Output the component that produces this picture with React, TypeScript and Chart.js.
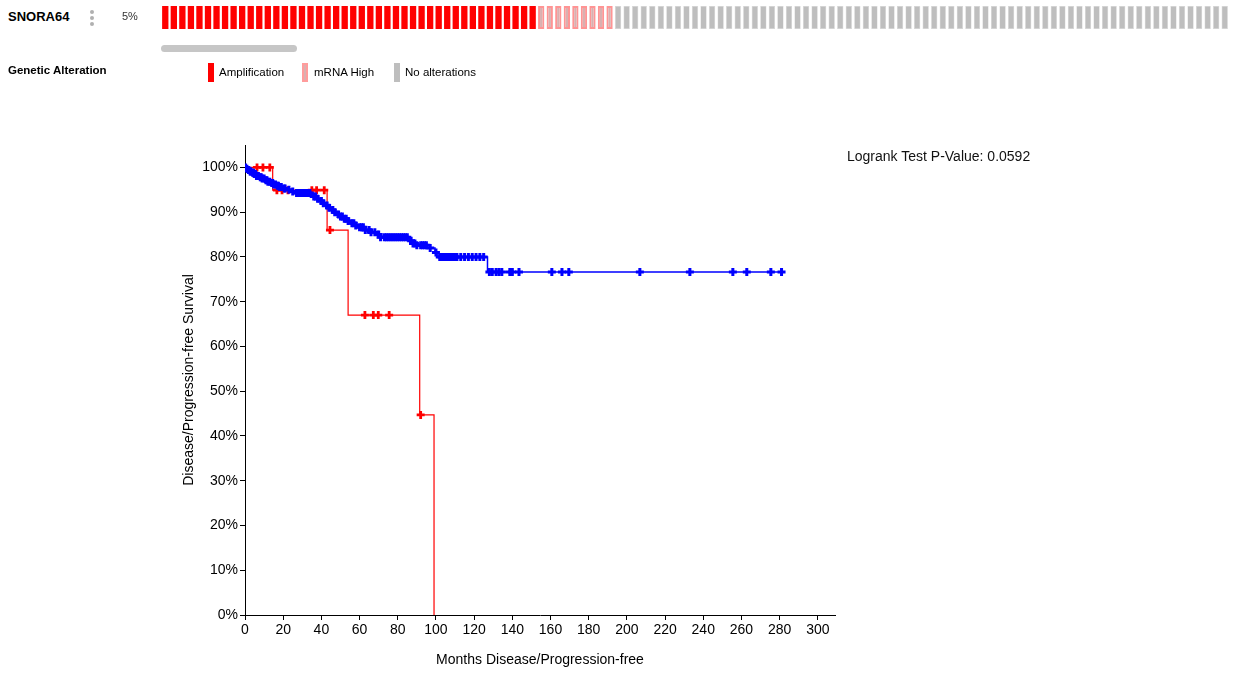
import React, { useEffect, useRef } from "react";
import { Chart, registerables } from "chart.js";

Chart.register(...registerables);

const FONT = '"Liberation Sans", Arial, Helvetica, sans-serif';

// ---- Oncoprint track (sample counts per alteration type) ----
const trackGene = "SNORA64";
const trackPercent = "5%";
const amplificationCount = 44;
const mrnaHighCount = 9;
const unalteredCount = 72;
const legendTitle = "Genetic Alteration";
const legendLabels = ["Amplification", "mRNA High", "No alterations"];

// ---- Kaplan-Meier: unaltered group (blue) ----
const blueEventMonths = [
  0, 0.5, 1.5, 2.5, 3.5, 5, 6, 7.5, 9, 10.5, 12, 13.5, 15, 16.5, 18, 20, 22, 24, 26,
  35, 36, 37.5, 39, 40.5, 42, 43.5, 45, 46.5, 48, 50, 52, 54, 56, 58, 60, 63, 66,
  68.5, 71, 86, 88, 90, 97, 99.5, 101, 127, 281,
];
const blueSurvival = [
  100, 99.7, 99.4, 99.1, 98.8, 98.5, 98.1, 97.8, 97.5, 97.1, 96.8, 96.5, 96.2, 95.9,
  95.6, 95.3, 95.0, 94.6, 94.3, 94.0, 93.5, 93.0, 92.5, 92.0, 91.5, 91.0, 90.5, 90.0,
  89.5, 89.0, 88.5, 88.0, 87.5, 87.0, 86.6, 86.0, 85.5, 85.0, 84.4, 83.6, 83.0, 82.6,
  82.0, 81.0, 80.0, 76.6, 76.6,
];
const blueCensorMonths = [
  0.3, 1, 1.8, 2, 2.7, 3, 4, 4.5, 5, 5.5, 6, 7, 8, 8.5, 9, 10, 11, 11.5, 12, 13, 14,
  14.5, 15, 16, 17, 17.5, 18, 19, 20.5, 21, 23, 25, 27, 28, 29, 30, 31, 32, 33, 34,
  36, 37, 38, 40, 41, 43, 44, 46, 47, 49, 50, 51, 52, 53, 54, 56, 57, 58, 60, 61, 62,
  63, 65, 66, 68, 70, 71, 73, 74, 75, 76, 77, 78, 79, 80, 81, 82, 83, 84, 85, 87, 88,
  89, 90, 92, 93, 94, 95, 97, 100, 102, 103, 104, 105, 106, 107, 108, 109, 110, 111,
  113, 115, 117, 119, 121, 123, 125, 128, 129.5, 131.5, 133, 134.5, 138.7, 140, 143.5,
  160.7, 166, 169.6, 206.8, 233, 255.5, 262.8, 275.4, 281,
];

// ---- Kaplan-Meier: altered group (red) ----
const redEventMonths = [0, 14.5, 43, 54, 91.5, 99];
const redSurvival = [100, 94.9, 86.0, 67.0, 44.7, 0];
const redCensorMonths = [
  6.3, 9.4, 13, 16.7, 19.4, 22.5, 35, 37.5, 41.5, 44.5, 62.8, 67.2, 69.8, 75.5, 92,
];

const xTickStep = 20;
const yTickStep = 10;
const pValueText = "Logrank Test P-Value: 0.0592";
const xTitle = "Months Disease/Progression-free";
const yTitle = "Disease/Progression-free Survival";

function survivalAt(months: number[], surv: number[], t: number) {
  let s = surv[0];
  for (let i = 0; i < months.length; i++) {
    if (months[i] <= t) s = surv[i];
  }
  return s;
}

export default function App() {
  const kmRef = useRef<HTMLCanvasElement>(null);
  const trackRef = useRef<HTMLCanvasElement>(null);

  useEffect(() => {
    document.body.style.margin = "0";

    const stepData = (m: number[], s: number[]) => m.map((x, i) => ({ x, y: s[i] }));
    const censorData = (c: number[], m: number[], s: number[]) =>
      c.map((x) => ({ x, y: survivalAt(m, s, x) }));

    const km = new Chart(kmRef.current!, {
      type: "scatter",
      data: {
        datasets: [
          {
            data: censorData(blueCensorMonths, blueEventMonths, blueSurvival),
            showLine: false,
            pointStyle: "cross",
            pointRadius: 4,
            pointBorderWidth: 3,
            borderColor: "#0000ff",
            backgroundColor: "#0000ff",
            order: 0,
          },
          {
            data: stepData(blueEventMonths, blueSurvival),
            showLine: true,
            stepped: true,
            borderColor: "#0000ff",
            borderWidth: 1.5,
            pointRadius: 0,
            order: 1,
          },
          {
            data: censorData(redCensorMonths, redEventMonths, redSurvival),
            showLine: false,
            pointStyle: "cross",
            pointRadius: 4,
            pointBorderWidth: 2.8,
            borderColor: "#ff0000",
            backgroundColor: "#ff0000",
            order: 2,
          },
          {
            data: stepData(redEventMonths, redSurvival),
            showLine: true,
            stepped: true,
            borderColor: "#ff0000",
            borderWidth: 1.2,
            pointRadius: 0,
            order: 3,
          },
        ],
      },
      options: {
        animation: false,
        responsive: false,
        events: [],
        layout: { padding: { left: 177, top: 45, right: 398, bottom: 0 } },
        plugins: { legend: { display: false }, tooltip: { enabled: false } },
        scales: {
          x: {
            type: "linear",
            min: 0,
            max: 309,
            afterFit: (s: any) => {
              s.height = 60;
            },
            ticks: {
              stepSize: xTickStep,
              includeBounds: false,
              color: "#000",
              font: { family: FONT, size: 14 },
              padding: 2,
              maxRotation: 0,
            },
            grid: { drawOnChartArea: false, drawTicks: true, tickLength: 5, color: "#000" },
            border: { display: true, color: "#000" },
            title: {
              display: true,
              text: xTitle,
              color: "#000",
              font: { family: FONT, size: 14 },
              padding: { top: 4, bottom: 6 },
            },
          },
          y: {
            type: "linear",
            min: 0,
            max: 105,
            afterFit: (s: any) => {
              s.width = 68;
            },
            ticks: {
              stepSize: yTickStep,
              includeBounds: false,
              color: "#000",
              font: { family: FONT, size: 14 },
              padding: 2,
              callback: (v: any) => v + "%",
            },
            grid: { drawOnChartArea: false, drawTicks: true, tickLength: 5, color: "#000" },
            border: { display: true, color: "#000" },
            title: {
              display: true,
              text: yTitle,
              color: "#000",
              font: { family: FONT, size: 14 },
              padding: { top: 4, bottom: 4 },
            },
          },
        },
      },
    } as any);

    const kinds: string[] = [
      ...Array(amplificationCount).fill("amp"),
      ...Array(mrnaHighCount).fill("mrna"),
      ...Array(unalteredCount).fill("none"),
    ];
    const track = new Chart(trackRef.current!, {
      type: "bar",
      data: {
        labels: kinds.map((_, i) => String(i)),
        datasets: [
          {
            data: kinds.map(() => 1),
            backgroundColor: kinds.map((k) =>
              k === "amp" ? "#ff0000" : k === "mrna" ? "#d9b0b0" : "#bebebe"
            ),
            borderColor: kinds.map((k) =>
              k === "amp" ? "#ff0000" : k === "mrna" ? "#ff9494" : "#d6d6d6"
            ),
            borderWidth: kinds.map((k) => (k === "mrna" ? 2 : k === "none" ? 0.6 : 0)),
            borderSkipped: false,
            categoryPercentage: 1,
            barPercentage: 0.74,
          },
        ],
      },
      options: {
        animation: false,
        responsive: false,
        events: [],
        layout: { padding: 0 },
        plugins: { legend: { display: false }, tooltip: { enabled: false } },
        scales: {
          x: { display: false },
          y: { display: false, min: 0, max: 1 },
        },
      },
    } as any);

    return () => {
      km.destroy();
      track.destroy();
    };
  }, []);

  const txt = (
    left: number,
    cy: number,
    size: number,
    bold: boolean,
    content: string,
    color = "#000"
  ) => (
    <div
      style={{
        position: "absolute",
        left,
        top: cy - size * 0.6,
        fontSize: size,
        lineHeight: `${size * 1.2}px`,
        fontWeight: bold ? "bold" : "normal",
        color,
        whiteSpace: "nowrap",
        fontFamily: FONT,
      }}
    >
      {content}
    </div>
  );

  const swatch = (left: number, bg: string, border?: string) => (
    <div
      style={{
        position: "absolute",
        left,
        top: 63,
        width: 6,
        height: 19,
        boxSizing: "border-box",
        background: bg,
        border: border ? `2px solid ${border}` : "none",
      }}
    />
  );

  return (
    <div
      style={{
        position: "relative",
        width: 1233,
        height: 675,
        background: "#fff",
        overflow: "hidden",
        fontFamily: FONT,
      }}
    >
      <canvas
        ref={kmRef}
        width={1233}
        height={575}
        style={{ position: "absolute", left: 0, top: 100 }}
      />
      <canvas
        ref={trackRef}
        width={1068}
        height={23}
        style={{ position: "absolute", left: 161, top: 6 }}
      />
      {txt(8, 17, 13, true, trackGene)}
      {[12, 18, 24].map((y) => (
        <div
          key={y}
          style={{
            position: "absolute",
            left: 90,
            top: y - 2,
            width: 4,
            height: 4,
            borderRadius: 2,
            background: "#b0b0b0",
          }}
        />
      ))}
      {txt(122, 17, 11, false, trackPercent, "#333")}
      <div
        style={{
          position: "absolute",
          left: 161,
          top: 45,
          width: 136,
          height: 7,
          borderRadius: 4,
          background: "#c6c6c6",
        }}
      />
      {txt(8, 71, 11.5, true, legendTitle)}
      {swatch(208, "#ff0000")}
      {txt(219, 73, 11.5, false, legendLabels[0])}
      {swatch(302, "#d9b0b0", "#ff9c9c")}
      {txt(314, 73, 11.5, false, legendLabels[1])}
      {swatch(394, "#bebebe")}
      {txt(405, 73, 11.5, false, legendLabels[2])}
      {txt(847, 156, 14, false, pValueText, "#111")}
    </div>
  );
}
